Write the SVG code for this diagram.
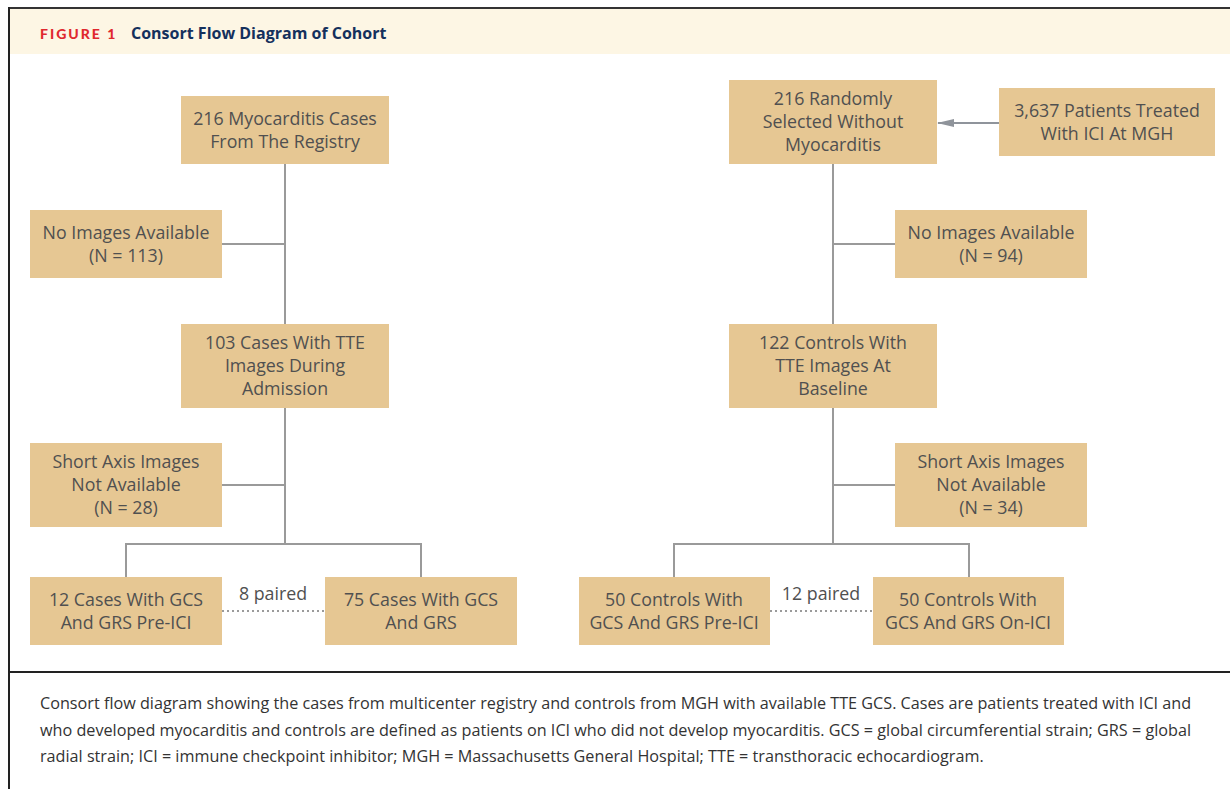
<svg xmlns="http://www.w3.org/2000/svg" width="1230" height="789" viewBox="0 0 1230 789">
<defs>
<style>
.box{fill:#e6c793}
.bt{font-family:"Open Sans","Liberation Sans",sans-serif;font-size:17.8px;fill:#505050;text-anchor:middle}
.ln{stroke:#9a9a9a;stroke-width:2;fill:none}
.dot{stroke:#9a9a9a;stroke-width:2;fill:none;stroke-dasharray:2 3}
.cap{font-family:"Open Sans","Liberation Sans",sans-serif;font-size:16.2px;fill:#333}
</style>
<marker id="ah" viewBox="0 0 17 8" refX="16" refY="4" markerWidth="17" markerHeight="8" markerUnits="userSpaceOnUse" orient="auto">
<path d="M0,0 L17,4 L0,8 Z" fill="#8f949b"/>
</marker>
</defs>
<rect width="1230" height="789" fill="#fff"/>
<rect x="9" y="9" width="1221" height="45" fill="#fdf6e4"/>
<line x1="8" y1="8" x2="1230" y2="8" stroke="#333" stroke-width="2"/>
<line x1="9" y1="7" x2="9" y2="789" stroke="#222" stroke-width="2"/>
<line x1="8" y1="672" x2="1230" y2="672" stroke="#222" stroke-width="2"/>
<text x="40" y="39" font-family="Lato,'Liberation Sans',sans-serif" font-weight="900" font-size="14" letter-spacing="2" fill="#e0282e">FIGURE 1</text>
<text x="131" y="39" font-family="'Open Sans','Liberation Sans',sans-serif" font-weight="700" font-size="16" fill="#14305c">Consort Flow Diagram of Cohort</text>

<g id="connectors">
<path class="ln" d="M285,164 V544"/>
<path class="ln" d="M222,244 H285"/>
<path class="ln" d="M222,485 H285"/>
<path class="ln" d="M126,577 V544 H421 V577"/>
<path class="dot" d="M222,611 H325"/>
<path class="ln" d="M833,164 V544"/>
<path class="ln" d="M833,244 H895"/>
<path class="ln" d="M833,485 H895"/>
<path class="ln" d="M674,577 V544 H969 V577"/>
<path class="dot" d="M770,611 H873"/>
<path d="M999,123 H938" stroke="#8f949b" stroke-width="2" fill="none" marker-end="url(#ah)"/>
</g>

<g id="n1"><rect class="box" x="181" y="96" width="208" height="68"/>
<text class="bt" x="285" y="125">216 Myocarditis Cases</text><text class="bt" x="285" y="148">From The Registry</text></g>
<g id="n2"><rect class="box" x="30" y="210" width="192" height="68"/>
<text class="bt" x="126" y="239">No Images Available</text><text class="bt" x="126" y="262">(N = 113)</text></g>
<g id="n3"><rect class="box" x="181" y="324" width="208" height="84"/>
<text class="bt" x="285" y="349">103 Cases With TTE</text><text class="bt" x="285" y="372">Images During</text><text class="bt" x="285" y="395">Admission</text></g>
<g id="n4"><rect class="box" x="30" y="443" width="192" height="84"/>
<text class="bt" x="126" y="468">Short Axis Images</text><text class="bt" x="126" y="491">Not Available</text><text class="bt" x="126" y="514">(N = 28)</text></g>
<g id="n5"><rect class="box" x="30" y="577" width="192" height="68"/>
<text class="bt" x="126" y="606">12 Cases With GCS</text><text class="bt" x="126" y="629">And GRS Pre-ICI</text></g>
<g id="n6"><rect class="box" x="325" y="577" width="192" height="68"/>
<text class="bt" x="421" y="606">75 Cases With GCS</text><text class="bt" x="421" y="629">And GRS</text></g>
<text class="bt" x="273" y="600">8 paired</text>

<g id="n7"><rect class="box" x="729" y="80" width="208" height="84"/>
<text class="bt" x="833" y="105">216 Randomly</text><text class="bt" x="833" y="128">Selected Without</text><text class="bt" x="833" y="151">Myocarditis</text></g>
<g id="n8"><rect class="box" x="999" y="88" width="216" height="68"/>
<text class="bt" x="1107" y="117">3,637 Patients Treated</text><text class="bt" x="1107" y="140">With ICI At MGH</text></g>
<g id="n9"><rect class="box" x="895" y="210" width="192" height="68"/>
<text class="bt" x="991" y="239">No Images Available</text><text class="bt" x="991" y="262">(N = 94)</text></g>
<g id="n10"><rect class="box" x="729" y="324" width="208" height="84"/>
<text class="bt" x="833" y="349">122 Controls With</text><text class="bt" x="833" y="372">TTE Images At</text><text class="bt" x="833" y="395">Baseline</text></g>
<g id="n11"><rect class="box" x="895" y="443" width="192" height="84"/>
<text class="bt" x="991" y="468">Short Axis Images</text><text class="bt" x="991" y="491">Not Available</text><text class="bt" x="991" y="514">(N = 34)</text></g>
<g id="n12"><rect class="box" x="579" y="577" width="191" height="68"/>
<text class="bt" x="674" y="606">50 Controls With</text><text class="bt" x="674" y="629">GCS And GRS Pre-ICI</text></g>
<g id="n13"><rect class="box" x="873" y="577" width="191" height="68"/>
<text class="bt" x="968" y="606">50 Controls With</text><text class="bt" x="968" y="629">GCS And GRS On-ICI</text></g>
<text class="bt" x="821" y="600">12 paired</text>

<text class="cap" x="40" y="709">Consort flow diagram showing the cases from multicenter registry and controls from MGH with available TTE GCS. Cases are patients treated with ICI and</text>
<text class="cap" x="40" y="736">who developed myocarditis and controls are defined as patients on ICI who did not develop myocarditis. GCS = global circumferential strain; GRS = global</text>
<text class="cap" x="40" y="762">radial strain; ICI = immune checkpoint inhibitor; MGH = Massachusetts General Hospital; TTE = transthoracic echocardiogram.</text>
</svg>
